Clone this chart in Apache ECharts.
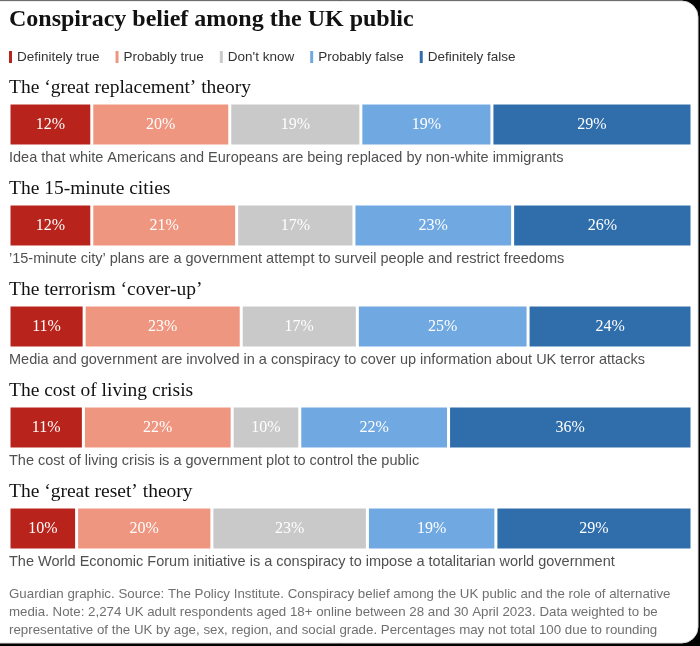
<!DOCTYPE html>
<html>
<head>
<meta charset="utf-8">
<script src="https://cdn.jsdelivr.net/npm/echarts@6/dist/echarts.min.js"></script>
<style>html,body{margin:0;padding:0;background:#000;}#chart{width:700px;height:646px;}</style>
</head>
<body>
<div id="chart"></div>
<script>
const chartTitle = 'Conspiracy belief among the UK public';
const theories = ['The \u2018great replacement\u2019 theory', 'The 15-minute cities', 'The terrorism \u2018cover-up\u2019', 'The cost of living crisis', 'The \u2018great reset\u2019 theory'];
const descriptions = [
  'Idea that white Americans and Europeans are being replaced by non-white immigrants',
  '\u201915-minute city\u2019 plans are a government attempt to surveil people and restrict freedoms',
  'Media and government are involved in a conspiracy to cover up information about UK terror attacks',
  'The cost of living crisis is a government plot to control the public',
  'The World Economic Forum initiative is a conspiracy to impose a totalitarian world government'
];
const responses = ['Definitely true', 'Probably true', "Don't know", 'Probably false', 'Definitely false'];
const definitelyTrue  = [12, 12, 11, 11, 10];
const probablyTrue    = [20, 21, 23, 22, 20];
const dontKnow        = [19, 17, 17, 10, 23];
const probablyFalse   = [19, 23, 25, 22, 19];
const definitelyFalse = [29, 26, 24, 36, 29];
const footerLines = [
  'Guardian graphic. Source: The Policy Institute. Conspiracy belief among the UK public and the role of alternative',
  'media. Note: 2,274 UK adult respondents aged 18+ online between 28 and 30 April 2023. Data weighted to be',
  'representative of the UK by age, sex, region, and social grade. Percentages may not total 100 due to rounding'
];

const valuesByResponse = [definitelyTrue, probablyTrue, dontKnow, probablyFalse, definitelyFalse];
const colors = ['#b8241c', '#ee9680', '#c9c9c9', '#70a9e1', '#2f6eab'];

const rowTop0 = 103, rowStep = 101, barH = 43;
const grids = [], xAxes = [], yAxes = [], series = [], graphics = [];

graphics.push({type: 'rect', z: -10, shape: {x: -20, y: 1, width: 718, height: 642, r: 16},
  style: {fill: '#fff', stroke: '#dcdcdc', lineWidth: 1}});
graphics.push({type: 'text', left: 9, top: 8, style: {text: chartTitle, fill: '#121212',
  font: 'bold 24px "Liberation Serif", serif'}});

theories.forEach((t, i) => {
  const top = rowTop0 + i * rowStep;
  const total = valuesByResponse.reduce((a, arr) => a + arr[i], 0);
  grids.push({left: 9, right: 8, top: top, height: barH});
  xAxes.push({type: 'value', gridIndex: i, min: 0, max: total, show: false});
  yAxes.push({type: 'category', gridIndex: i, data: [t], show: false});
  responses.forEach((r, s) => {
    series.push({
      type: 'bar', name: r, stack: 'row' + i, xAxisIndex: i, yAxisIndex: i,
      data: [valuesByResponse[s][i]], barWidth: '100%',
      itemStyle: {color: colors[s], borderColor: '#fff', borderWidth: 1.5},
      label: {show: true, position: 'inside', formatter: '{c}%', color: '#fff',
        fontFamily: '"Liberation Serif", serif', fontSize: 16},
      emphasis: {disabled: true}, animation: false
    });
  });
  graphics.push({type: 'text', x: 9, y: top - 15, style: {text: t, fill: '#121212',
    font: '19.5px "Liberation Serif", serif', textVerticalAlign: 'middle'}});
  graphics.push({type: 'text', x: 9, y: top + barH + 12, style: {text: descriptions[i], fill: '#505050',
    font: '14.5px "Liberation Sans", sans-serif', textVerticalAlign: 'middle'}});
});

footerLines.forEach((l, k) => {
  graphics.push({type: 'text', x: 9, y: 594 + k * 18, style: {text: l, fill: '#707070',
    font: '13.3px "Liberation Sans", sans-serif', textVerticalAlign: 'middle'}});
});

const chart = echarts.init(document.getElementById('chart'));
chart.setOption({
  backgroundColor: '#000',
  animation: false,
  color: colors,
  legend: {left: 2, top: 44, data: responses, icon: 'roundRect', itemWidth: 5, itemHeight: 14,
    itemGap: 14, selectedMode: false,
    textStyle: {color: '#333', fontSize: 13.5, fontFamily: '"Liberation Sans", sans-serif', padding: [0, 0, 0, -1]}},
  grid: grids, xAxis: xAxes, yAxis: yAxes, series: series, graphic: graphics
});
</script>
</body>
</html>
